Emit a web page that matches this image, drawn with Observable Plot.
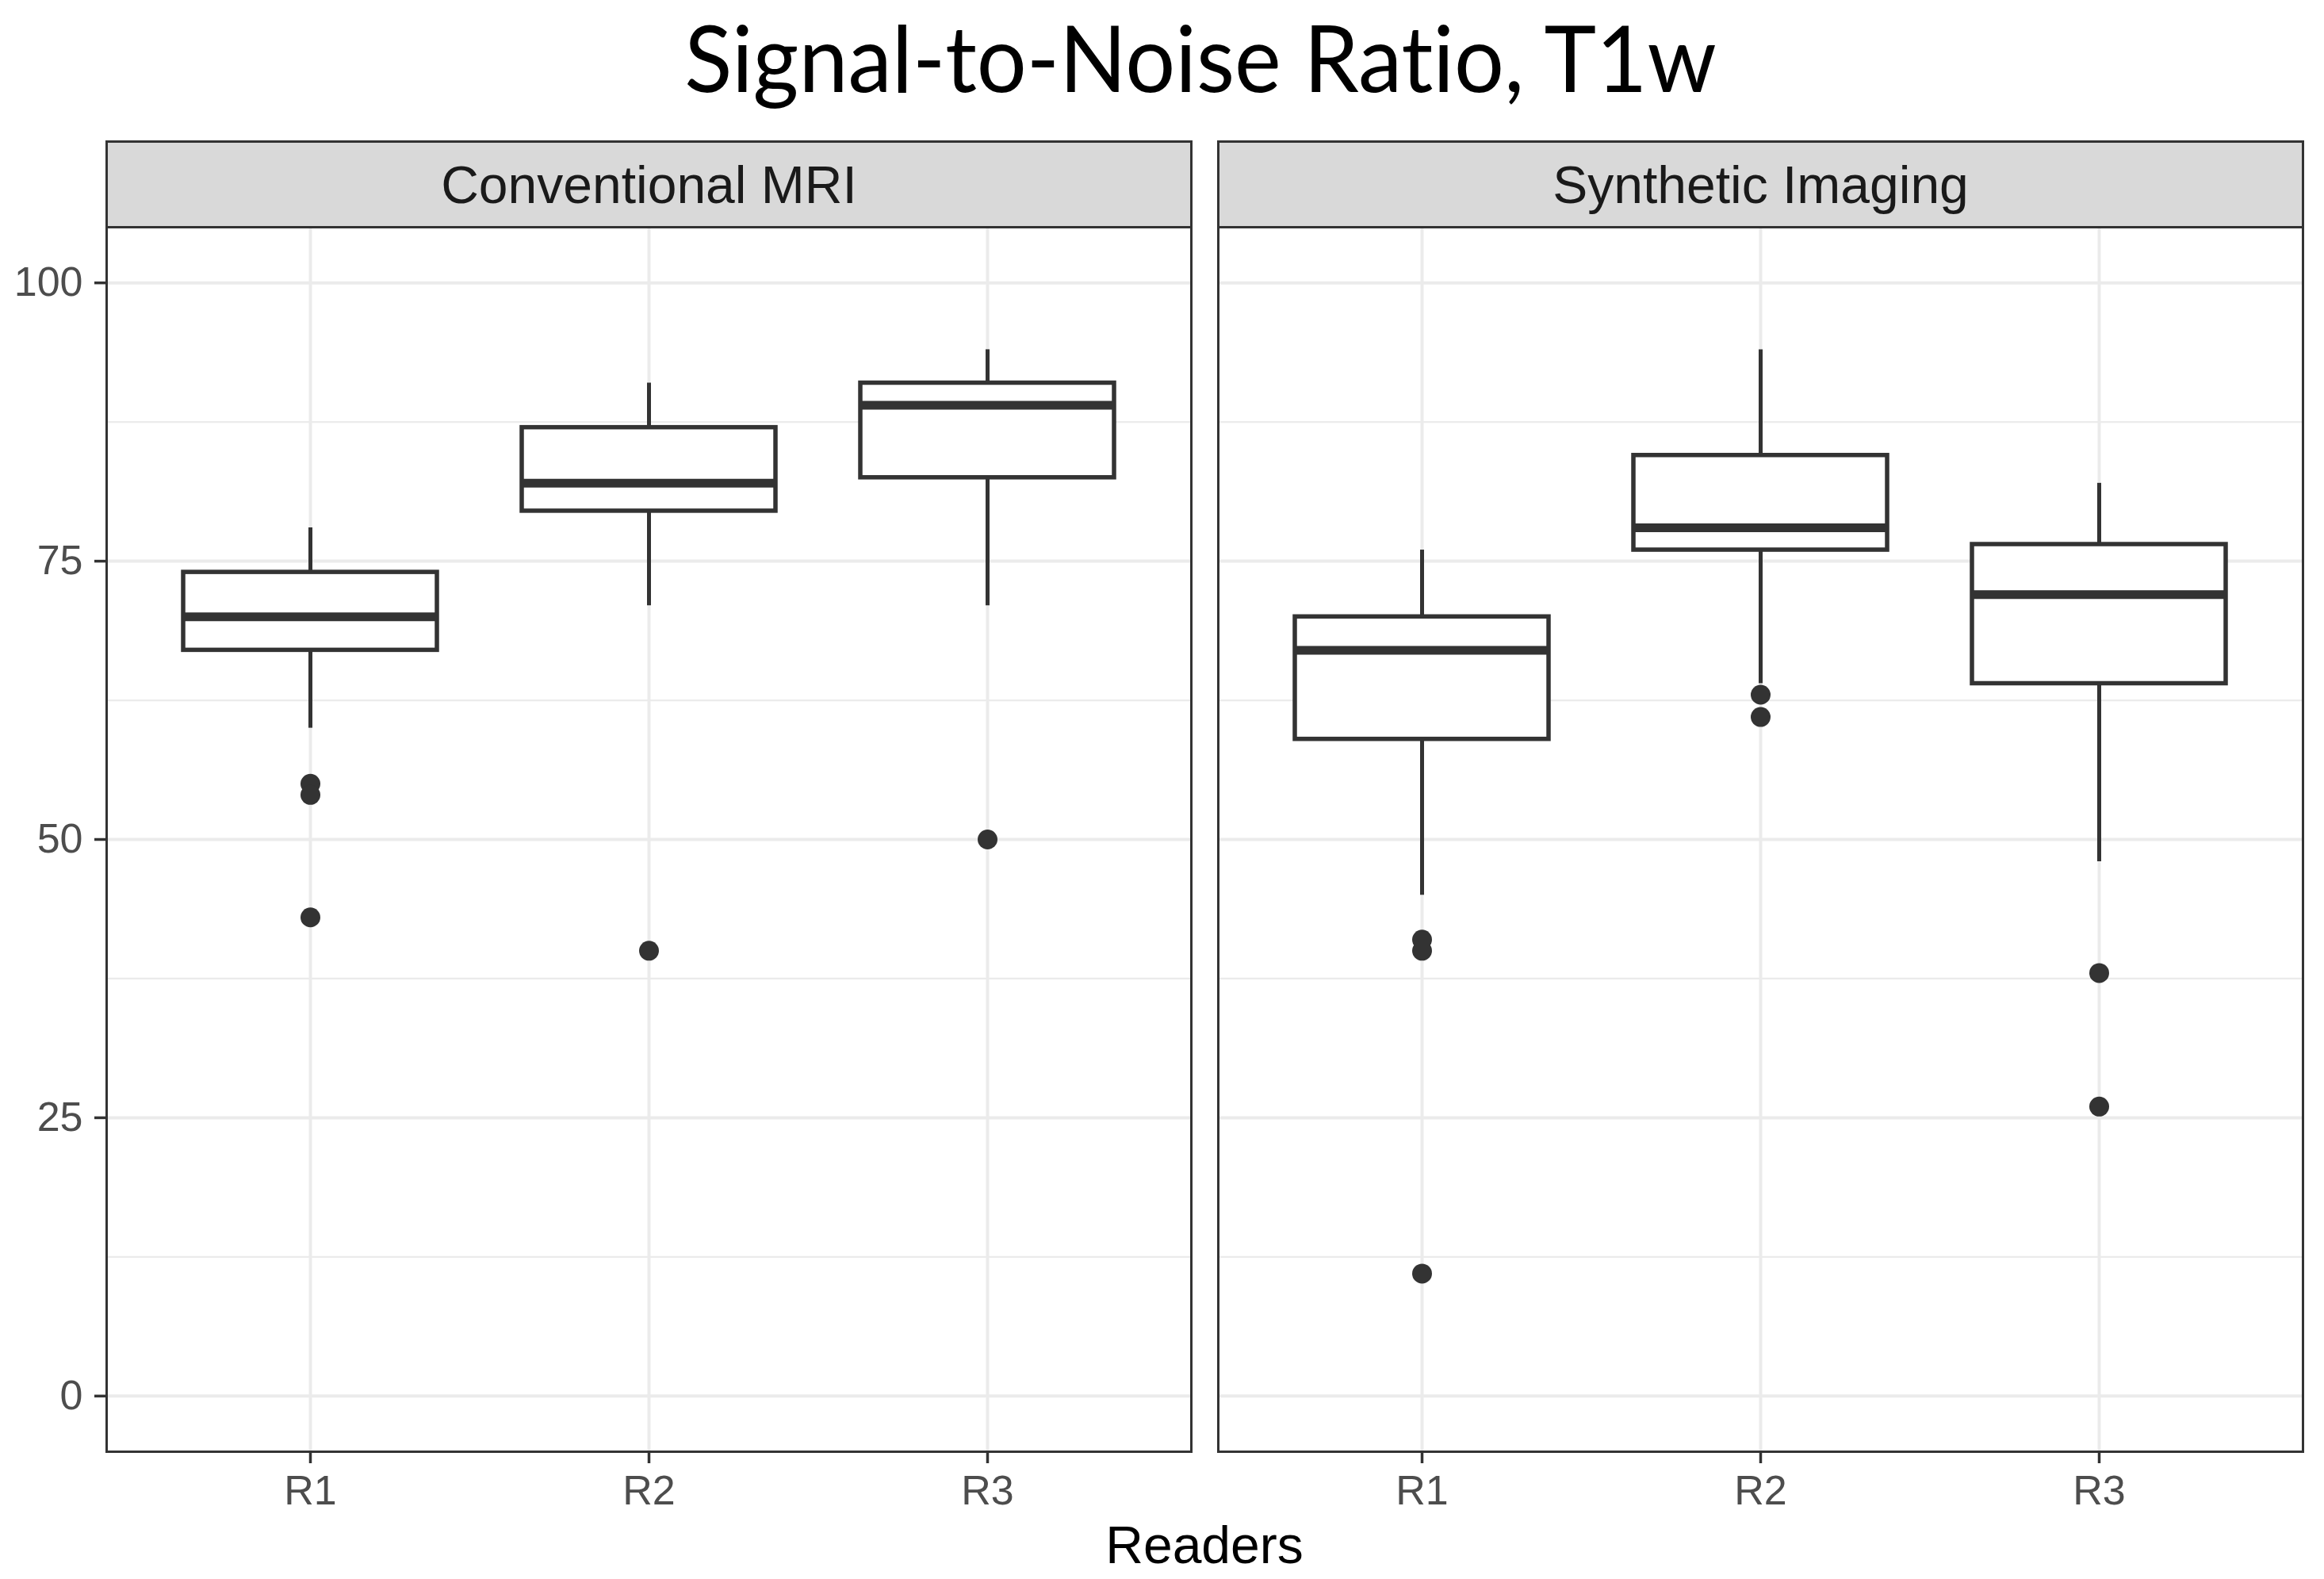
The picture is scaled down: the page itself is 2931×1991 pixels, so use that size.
<!DOCTYPE html>
<html>
<head>
<meta charset="utf-8">
<script src="https://cdn.jsdelivr.net/npm/d3@7"></script>
<script src="https://cdn.jsdelivr.net/npm/@observablehq/plot@0.6"></script>
<style>
html, body { margin: 0; padding: 0; background: #fff; }
#root { position: relative; width: 2931px; height: 1991px; overflow: hidden; font-family: "Liberation Sans", Arial, sans-serif; background: #fff; }
#title { position: absolute; left: 514px; width: 2000px; top: 13px; text-align: center; font-family: Lato, "Open Sans", sans-serif; font-size: 117px; line-height: 1; color: #000; white-space: nowrap; font-variant-ligatures: none; font-feature-settings: "liga" 0, "clig" 0; transform: scaleX(0.95); transform-origin: 1000px 50%; }
.strip { position: absolute; box-sizing: border-box; background: #D9D9D9; border: 3px solid #333333; display: flex; align-items: center; justify-content: center; font-size: 66px; color: #1A1A1A; line-height: 1; white-space: nowrap; }
.panel { position: absolute; }
#xtitle { position: absolute; left: 1019px; width: 1000px; top: 1915px; text-align: center; font-size: 66px; line-height: 1; color: #000; }
</style>
</head>
<body>
<div id="root">
  <div id="title">Signal-to-Noise Ratio, T1w</div>
  <div class="strip" id="strip1" style="left:133px; top:177px; width:1371px; height:111px;"></div>
  <div class="strip" id="strip2" style="left:1535px; top:177px; width:1371px; height:111px;"></div>
  <div class="panel" id="p1" style="left:0px; top:284px; width:1504px;"></div>
  <div class="panel" id="p2" style="left:1534px; top:284px; width:1372px;"></div>
  <div id="xtitle">Readers</div>
</div>
<script>
// ---- data ----
const readers = ["R1", "R2", "R3"];
const panels = ["Conventional MRI", "Synthetic Imaging"];
const yTicks = [0, 25, 50, 75, 100];
const yMinor = [12.5, 37.5, 62.5, 87.5];

// Conventional MRI box statistics per reader
const convLow    = [60, 71, 71];
const convQ1     = [67, 79.5, 82.5];
const convMedian = [70, 82, 89];
const convQ3     = [74, 87, 91];
const convHigh   = [78, 91, 94];
const convOutReader = ["R1", "R1", "R1", "R2", "R3"];
const convOutValue  = [55, 54, 43, 40, 50];

// Synthetic Imaging box statistics per reader
const synLow    = [45, 64, 48];
const synQ1     = [59, 76, 64];
const synMedian = [67, 78, 72];
const synQ3     = [70, 84.5, 76.5];
const synHigh   = [76, 94, 82];
const synOutReader = ["R1", "R1", "R1", "R2", "R2", "R3", "R3"];
const synOutValue  = [41, 40, 11, 63, 61, 38, 26];

// ---- build tables ----
function boxTable(low, q1, med, q3, high) {
  return readers.map((r, i) => ({reader: r, low: low[i], q1: q1[i], median: med[i], q3: q3[i], high: high[i]}));
}
function outTable(rs, vs) {
  return rs.map((r, i) => ({reader: r, value: vs[i]}));
}
const convBoxes = boxTable(convLow, convQ1, convMedian, convQ3, convHigh);
const synBoxes = boxTable(synLow, synQ1, synMedian, synQ3, synHigh);
const convOut = outTable(convOutReader, convOutValue);
const synOut = outTable(synOutReader, synOutValue);

const INK = "#333333";
const GRID = "#EBEBEB";

function panel(boxes, outliers, withYAxis) {
  const marks = [
    Plot.ruleY(yMinor, {stroke: GRID, strokeWidth: 2.2}),
    Plot.ruleY(yTicks, {stroke: GRID, strokeWidth: 4}),
    Plot.ruleX(readers, {stroke: GRID, strokeWidth: 4}),
    Plot.ruleX(boxes, {x: "reader", y1: "low", y2: "q1", stroke: INK, strokeWidth: 5}),
    Plot.ruleX(boxes, {x: "reader", y1: "q3", y2: "high", stroke: INK, strokeWidth: 5}),
    Plot.barY(boxes, {x: "reader", y1: "q1", y2: "q3", fill: "white", stroke: INK, strokeWidth: 5.5}),
    Plot.tickY(boxes, {x: "reader", y: "median", stroke: INK, strokeWidth: 11}),
    Plot.dot(outliers, {x: "reader", y: "value", r: 12.5, fill: INK, stroke: "none"}),
    Plot.frame({stroke: INK, strokeWidth: 3}),
    Plot.axisX({tickSize: 15, tickPadding: 15, fontSize: 52, fill: "#4D4D4D", stroke: INK, strokeWidth: 3.5, label: null})
  ];
  if (withYAxis) {
    marks.push(Plot.axisY(yTicks, {tickSize: 15, tickPadding: 15, fontSize: 52, fill: "#4D4D4D", stroke: INK, strokeWidth: 3.5, label: null}));
  }
  return Plot.plot({
    width: withYAxis ? 1504 : 1372,
    height: 1626,
    marginLeft: withYAxis ? 134 : 2,
    marginRight: 2,
    marginTop: 2,
    marginBottom: 80,
    style: {fontFamily: '"Liberation Sans", Arial, sans-serif', background: "transparent", overflow: "visible"},
    x: {type: "band", domain: readers, paddingInner: 0.25, paddingOuter: 0.225, align: 0.5, label: null},
    y: {domain: [-5, 105], label: null, axis: withYAxis ? undefined : null},
    marks
  });
}

document.getElementById("strip1").textContent = panels[0];
document.getElementById("strip2").textContent = panels[1];
document.getElementById("p1").appendChild(panel(convBoxes, convOut, true));
document.getElementById("p2").appendChild(panel(synBoxes, synOut, false));
</script>
</body>
</html>
